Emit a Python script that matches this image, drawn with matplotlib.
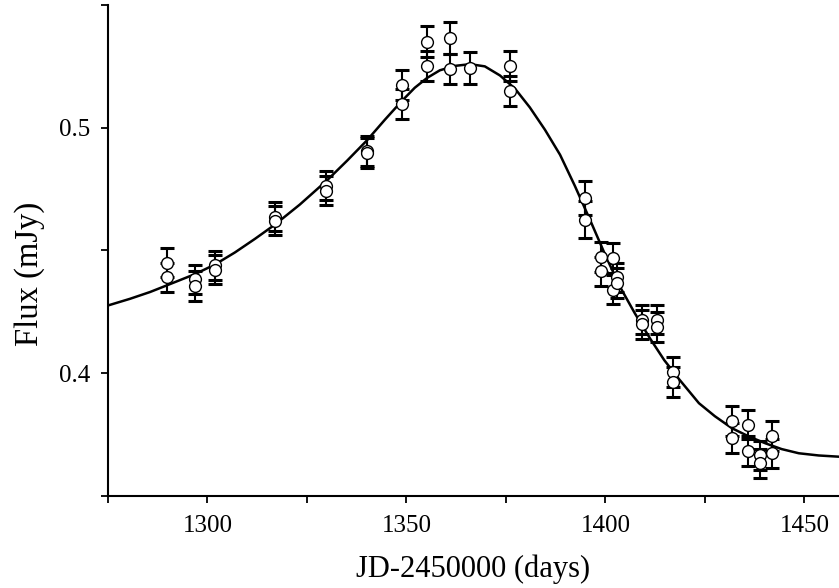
import numpy as np
import matplotlib
matplotlib.use("Agg")
import matplotlib.pyplot as plt
from matplotlib.ticker import MultipleLocator

plt.rcParams['font.family'] = ['Liberation Serif', 'DejaVu Serif']

# observed points (JD-2450000, flux in mJy, 1-sigma error)
t_obs = [1289.8, 1289.8, 1296.9, 1296.9, 1301.9, 1301.9, 1317.0, 1317.0,
         1329.9, 1329.9, 1340.0, 1340.0, 1348.8, 1348.8, 1355.1, 1355.1,
         1360.9, 1360.9, 1366.0, 1376.0, 1376.0, 1394.8, 1394.8,
         1398.9, 1398.9, 1401.9, 1401.9, 1402.8, 1402.8, 1409.1, 1409.1,
         1412.9, 1412.9, 1417.0, 1417.0, 1431.9, 1431.9, 1435.9, 1435.9,
         1438.8, 1438.8, 1441.9, 1441.9]
flux_obs = [0.4451, 0.4390, 0.4382, 0.4355, 0.4439, 0.4422, 0.4638, 0.4622,
            0.4764, 0.4744, 0.4906, 0.4898, 0.5175, 0.5096, 0.5351, 0.5252,
            0.5365, 0.5239, 0.5243, 0.5252, 0.5150, 0.4713, 0.4625,
            0.4473, 0.4415, 0.4469, 0.4340, 0.4391, 0.4367, 0.4218, 0.4199,
            0.4218, 0.4188, 0.4005, 0.3965, 0.3806, 0.3737, 0.3791, 0.3684,
            0.3665, 0.3633, 0.3744, 0.3674]
err_obs = [0.006, 0.006, 0.006, 0.006, 0.006, 0.006, 0.006, 0.006,
           0.006, 0.006, 0.006, 0.006, 0.006, 0.006, 0.0064, 0.006,
           0.0066, 0.006, 0.0064, 0.006, 0.006, 0.007, 0.0075,
           0.006, 0.006, 0.006, 0.006, 0.006, 0.006, 0.006, 0.006,
           0.006, 0.006, 0.006, 0.006, 0.006, 0.006, 0.006, 0.006,
           0.006, 0.006, 0.006, 0.006]

# model curve
t_fit = [1275.0, 1280.5, 1285.6, 1289.8, 1296.9, 1301.9, 1306.9, 1311.9,
         1317.0, 1323.2, 1330.0, 1335.1, 1340.1, 1344.6, 1348.9, 1352.1,
         1355.2, 1358.4, 1362.2, 1366.0, 1369.7, 1373.5, 1377.3, 1381.0,
         1384.8, 1388.6, 1392.3, 1396.1, 1399.9, 1403.6, 1407.4, 1411.2,
         1414.8, 1418.5, 1423.5, 1427.5, 1431.8, 1436.1, 1440.3, 1444.3,
         1448.6, 1453.6, 1458.7]
flux_fit = [0.4276, 0.4303, 0.4331, 0.4358, 0.4404, 0.4443, 0.4492, 0.4547,
            0.4606, 0.4687, 0.4785, 0.4866, 0.4949, 0.5033, 0.5110, 0.5163,
            0.5203, 0.5234, 0.5252, 0.5259, 0.5250, 0.5213, 0.5159, 0.5083,
            0.4992, 0.4890, 0.4764, 0.4626, 0.4484, 0.4354, 0.4244, 0.4142,
            0.4053, 0.3976, 0.3878, 0.3825, 0.3776, 0.3742, 0.3714, 0.3691,
            0.3674, 0.3665, 0.3660]

fig = plt.figure(figsize=(8.39, 5.88), dpi=100)
ax = fig.add_axes([0.1287, 0.1565, 0.8713, 0.835])

ax.plot(t_fit, flux_fit, color='black', lw=1.8, zorder=2)
ax.errorbar(t_obs, flux_obs, yerr=err_obs, fmt='none', ecolor='black',
            elinewidth=1.5, capsize=4.8, capthick=2.2, zorder=3)
ax.plot(t_obs, flux_obs, 'o', ms=8.5, mfc='white', mec='black', mew=1.0,
        zorder=4)

ax.set_xlim(1275, 1458.7)
ax.set_ylim(0.35, 0.55)
ax.xaxis.set_major_locator(MultipleLocator(50))
ax.xaxis.set_minor_locator(MultipleLocator(25))
ax.yaxis.set_major_locator(MultipleLocator(0.1))
ax.yaxis.set_minor_locator(MultipleLocator(0.05))
ax.tick_params(which='both', direction='out', length=5, width=1.3,
               labelsize=18)
ax.tick_params(axis='x', pad=9)
ax.tick_params(axis='y', pad=8)

for s in ['top', 'right']:
    ax.spines[s].set_visible(False)
for s in ['left', 'bottom']:
    ax.spines[s].set_linewidth(1.5)

ax.set_xlabel('JD-2450000 (days)', fontsize=22, labelpad=12)
ax.set_ylabel('Flux (mJy)', fontsize=23.5)
ax.yaxis.set_label_coords(-0.086, 0.452)

fig.savefig('out.png', dpi=100)
